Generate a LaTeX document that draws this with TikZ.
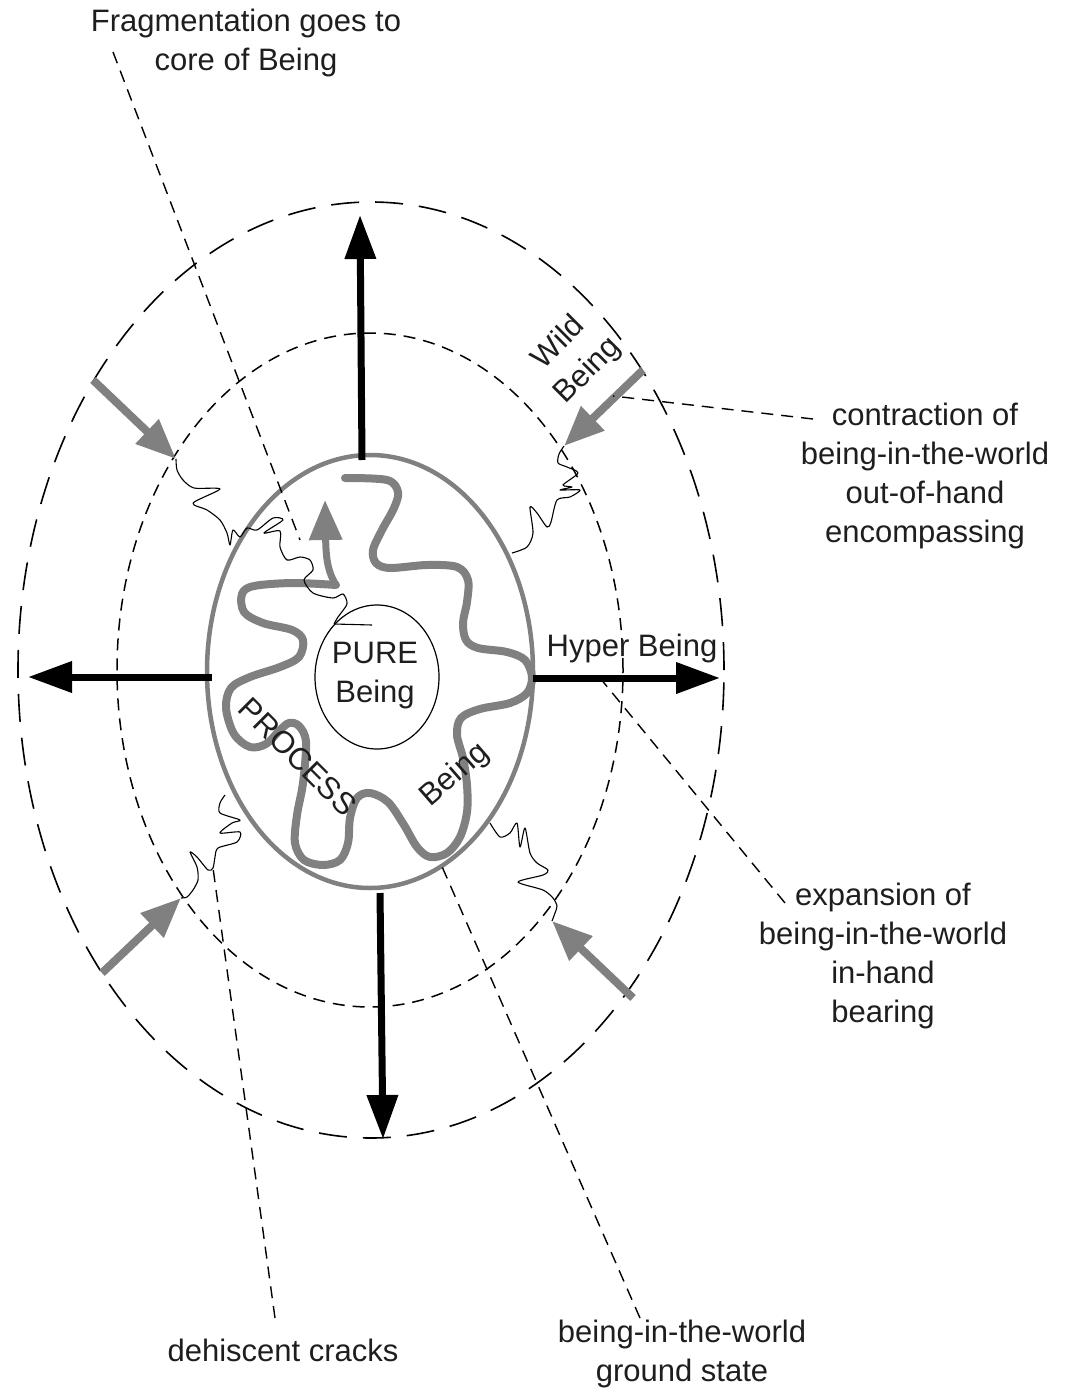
\documentclass[tikz,border=0pt]{standalone}
\usepackage{fontspec}
\setmainfont{Liberation Sans}
\usetikzlibrary{arrows.meta}
\definecolor{midgray}{HTML}{808080}
\definecolor{inkgray}{HTML}{1E1E1E}
\begin{document}
\begin{tikzpicture}[x=1pt,y=-1pt,
  lbl/.style={font=\fontsize{31}{39}\selectfont, align=center, inner sep=0pt, text=inkgray},
  outerring/.style={line width=1.6pt, dash pattern=on 28pt off 16pt},
  midring/.style={line width=1.5pt, dash pattern=on 12pt off 8pt},
  leader/.style={line width=1.4pt, dash pattern=on 12pt off 8pt},
  bigarrow/.style={line width=7pt, -{Triangle[length=44pt,width=30pt]}},
  grayarrow/.style={draw=midgray, line width=8pt, -{Triangle[length=40pt,width=32pt]}},
  crack/.style={line width=1.1pt, line join=round},
  wave/.style={draw=midgray, line width=8pt, line cap=round, line join=round},
]
\useasboundingbox (0,0) rectangle (1072,1388);

% concentric rings
\draw[outerring] (371,670) ellipse [x radius=353pt, y radius=468pt];
\draw[midring] (370,670) ellipse [x radius=253pt, y radius=337pt];
\draw[midgray, line width=4.5pt] (370,671.5) ellipse [x radius=163pt, y radius=216.5pt];
\draw[line width=1.2pt] (377,677) ellipse [x radius=62pt, y radius=72pt];

% the wandering process line
\draw[wave] plot[smooth, tension=0.55] coordinates {
  (345,478) (387,480) (398,492) (394,508) (382,530) (373,550) (376,563)
  (390,568) (427,565) (457,567) (468,580) (467,602) (463,623) (466,640)
  (478,648) (507,652) (525,660) (532,677) (527,693) (510,703) (480,709)
  (461,718) (457,735) (463,758) (467,785) (467,812) (460,837) (447,853)
  (430,857) (417,847) (404,825) (388,802) (370,793) (357,798) (350,818)
  (348,843) (340,860) (323,865) (304,860) (295,843) (297,815) (303,783)
  (306,742) (299,726) (289,723) (279,731) (266,744) (250,747) (234,734)
  (226,708) (231,688) (250,677) (280,667) (299,657) (303,640) (292,630)
  (263,623) (244,612) (242,594) (254,586) (293,583) (336,585)};
\draw[grayarrow, line width=7pt] (336,585) .. controls (328,572) and (326,560) .. (325,500);

% outward expansion arrows
\coordinate (ct) at (362,460);  \coordinate (tt) at (360,215);
\coordinate (cb) at (380,893);  \coordinate (tb) at (383,1139);
\coordinate (cl) at (212,677);  \coordinate (tl) at (28,677);
\coordinate (cr) at (533,678);  \coordinate (tr) at (720,678);
\draw[bigarrow] (ct) -- (tt);
\draw[bigarrow] (cb) -- (tb);
\draw[bigarrow] (cl) -- (tl);
\draw[bigarrow] (cr) -- (tr);

% inward contraction arrows
\coordinate (gtl) at (93,380);  \coordinate (htl) at (176,459);
\coordinate (gtr) at (643,370); \coordinate (htr) at (564,446);
\coordinate (gbl) at (102,973); \coordinate (hbl) at (181,898);
\coordinate (gbr) at (633,998); \coordinate (hbr) at (552,921);
\draw[grayarrow] (gtl) -- (htl);
\draw[grayarrow] (gtr) -- (htr);
\draw[grayarrow] (gbl) -- (hbl);
\draw[grayarrow] (gbr) -- (hbr);

% dehiscent cracks
\draw[crack] plot[smooth, tension=0.45] coordinates {
  (176,459) (177,470) (183,480) (194,488) (220,489) (193,503) (207,510)
  (220,520) (227,533) (230,545) (233,530) (240,537) (247,528) (257,530)
  (273,518) (283,520) (264,533) (280,531) (280,547) (287,560) (300,557)
  (310,560) (313,570) (304,580) (313,593) (333,598) (343,594) (347,604)
  (338,617) (334,624)};
\draw[crack] (334,624) -- (372,625);
\draw[crack] plot[smooth, tension=0.45] coordinates {
  (564,446) (559,454) (558,463) (567,467) (578,473) (563,485) (572,487)
  (560,490) (580,490) (570,497) (557,500) (551,522) (547,527) (537,513)
  (530,507) (533,533) (527,547) (512,553)};
\draw[crack] plot[smooth, tension=0.45] coordinates {
  (181,898) (187,897) (193,890) (198,880) (197,867) (190,852) (197,857)
  (208,870) (213,868) (215,857) (218,848) (237,842) (240,832) (220,833)
  (232,823) (240,820) (220,813) (220,803) (225,795)};
\draw[crack] plot[smooth, tension=0.45] coordinates {
  (552,921) (555,913) (557,906) (553,898) (543,890) (518,882) (543,875)
  (548,870) (537,863) (530,853) (525,828) (520,847) (517,823) (510,833)
  (500,837) (490,823)};

% labels
\node[lbl] (frag) at (246,43) {Fragmentation goes to\\core of Being};
\node[lbl] (contr) at (925,476) {contraction of\\being-in-the-world\\out-of-hand\\encompassing};
\node[lbl] (expan) at (883,956) {expansion of\\being-in-the-world\\in-hand\\bearing};
\node[lbl] (dehis) at (283,1350) {dehiscent cracks};
\node[lbl] (ground) at (682,1354) {being-in-the-world\\ground state};
\node[lbl] (hyper) at (632,648) {Hyper Being};
\node[lbl] (pure) at (375,676) {PURE\\Being};
\node[lbl, rotate=45] (wildw) at (557,341) {Wild};
\node[lbl, rotate=45] (wildb) at (588,371) {Being};
\node[lbl, rotate=-45] (proc) at (298,757) {PROCESS};
\node[lbl, rotate=41] (inbeing) at (455,775) {Being};

% leader lines
\coordinate (fragend) at (300,540);
\coordinate (contrend) at (613,396);
\coordinate (expanend) at (600,678);
\coordinate (dehisend) at (213,868);
\coordinate (groundend) at (440,862);
\draw[leader] (113,52) coordinate (fragstart) -- (fragend);
\draw[leader] (813,419) coordinate (contrstart) -- (contrend);
\draw[leader] (785,903) coordinate (expanstart) -- (expanend);
\draw[leader] (275,1318) coordinate (dehisstart) -- (dehisend);
\draw[leader] (640,1318) coordinate (groundstart) -- (groundend);
\end{tikzpicture}
\end{document}
